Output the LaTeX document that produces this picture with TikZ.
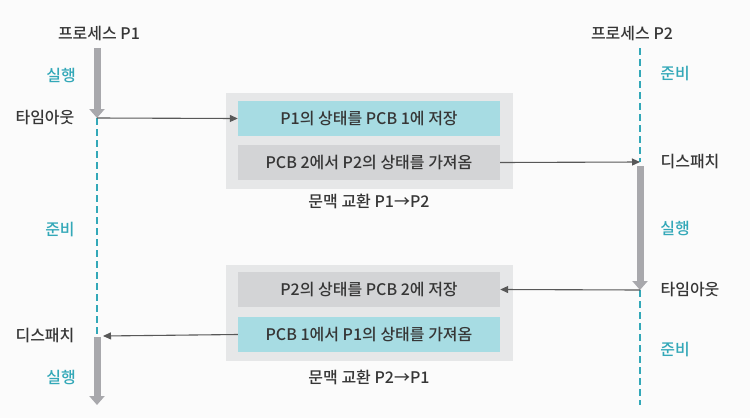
\documentclass[tikz,border=0pt]{standalone}
\usepackage{fontspec}
\setmainfont{Noto Sans CJK KR}[UprightFont=* Medium]
\usetikzlibrary{arrows.meta}
\definecolor{tealtxt}{HTML}{33A8B8}
\definecolor{tealfill}{HTML}{A7DCE3}
\definecolor{grayfill}{HTML}{D3D4D6}
\definecolor{outerfill}{HTML}{E6E7E8}
\definecolor{barcol}{HTML}{A8A8AC}
\definecolor{txt}{HTML}{363636}
\definecolor{conncol}{HTML}{585858}
\definecolor{bgcol}{HTML}{FBFBFB}
\tikzset{
  lbl/.style={text=txt, font=\fontsize{16}{19}\selectfont, inner sep=0pt},
  tlbl/.style={text=tealtxt, font=\fontsize{16}{19}\selectfont, inner sep=0pt},
  outerbox/.style={fill=outerfill, minimum width=287pt, minimum height=96pt, inner sep=0pt},
  tealbox/.style={fill=tealfill, minimum width=262pt, minimum height=35pt, inner sep=0pt, text=txt, font=\fontsize{16}{19}\selectfont},
  graybox/.style={fill=grayfill, minimum width=262pt, minimum height=35pt, inner sep=0pt, text=txt, font=\fontsize{16}{19}\selectfont},
  runbar/.style={barcol, line width=7pt, -{Triangle[width=15pt,length=9pt]}},
  readyline/.style={tealtxt, line width=2.5pt, dash pattern=on 7pt off 4pt},
  conn/.style={conncol, line width=1.1pt, -{Triangle[width=7pt,length=8pt]}}
}
\begin{document}
\begin{tikzpicture}[x=1pt,y=-1pt]
\fill[bgcol] (0,0) rectangle (750,418);
\useasboundingbox (0,0) rectangle (750,418);
% timeline coordinates
\coordinate (p1top) at (97,48);
\coordinate (p1to) at (97,118);
\coordinate (p1d) at (97,337);
\coordinate (p1dr) at (103,336);
\coordinate (p1bot) at (97,405);
\coordinate (p2top) at (640,48);
\coordinate (p2d) at (640,162);
\coordinate (p2ds) at (640,166);
\coordinate (p2to) at (640,290);
\coordinate (p2bot) at (640,405);
% headers
\node[lbl] (h1) at (99,33) {프로세스 P1};
\node[lbl] (h2) at (632,33) {프로세스 P2};
% P1 timeline
\draw[runbar] (p1top) -- (p1to);
\draw[readyline] (p1to) -- (p1d);
\draw[runbar] (p1d) -- (p1bot);
% P2 timeline
\draw[readyline] (p2top) -- (p2d);
\draw[runbar] (p2ds) -- (p2to);
\draw[readyline] (p2to) -- (p2bot);
% P1 labels
\node[tlbl] (r1) at (61,75) {실행};
\node[lbl] (t1) at (45,118) {타임아웃};
\node[tlbl] (j1) at (60,230) {준비};
\node[lbl] (d1) at (45,336) {디스패치};
\node[tlbl] (r1b) at (61,377) {실행};
% P2 labels
\node[tlbl] (j2) at (675,74) {준비};
\node[lbl] (d2) at (690,162) {디스패치};
\node[tlbl] (r2) at (675,228) {실행};
\node[lbl] (t2) at (690,290) {타임아웃};
\node[tlbl] (j2b) at (675,350) {준비};
% context switch 1
\node[outerbox] (o1) at (369.5,141) {};
\node[tealbox] (a1) at (369,118.5) {P1의 상태를 PCB 1에 저장};
\node[graybox] (b1) at (369,162.5) {PCB 2에서 P2의 상태를 가져옴};
\node[lbl] (c1) at (369,201) {문맥 교환 P1→P2};
% context switch 2
\node[outerbox] (o2) at (369.5,313) {};
\node[graybox] (a2) at (369,289.5) {P2의 상태를 PCB 2에 저장};
\node[tealbox] (b2) at (369,334.5) {PCB 1에서 P1의 상태를 가져옴};
\node[lbl] (c2) at (369,377) {문맥 교환 P2→P1};
% connectors
\draw[conn] (p1to) -- (a1.west);
\draw[conn] (b1.east) -- (p2d);
\draw[conn] (p2to) -- (a2.east);
\draw[conn] (b2.west) -- (p1dr);
\end{tikzpicture}
\end{document}
